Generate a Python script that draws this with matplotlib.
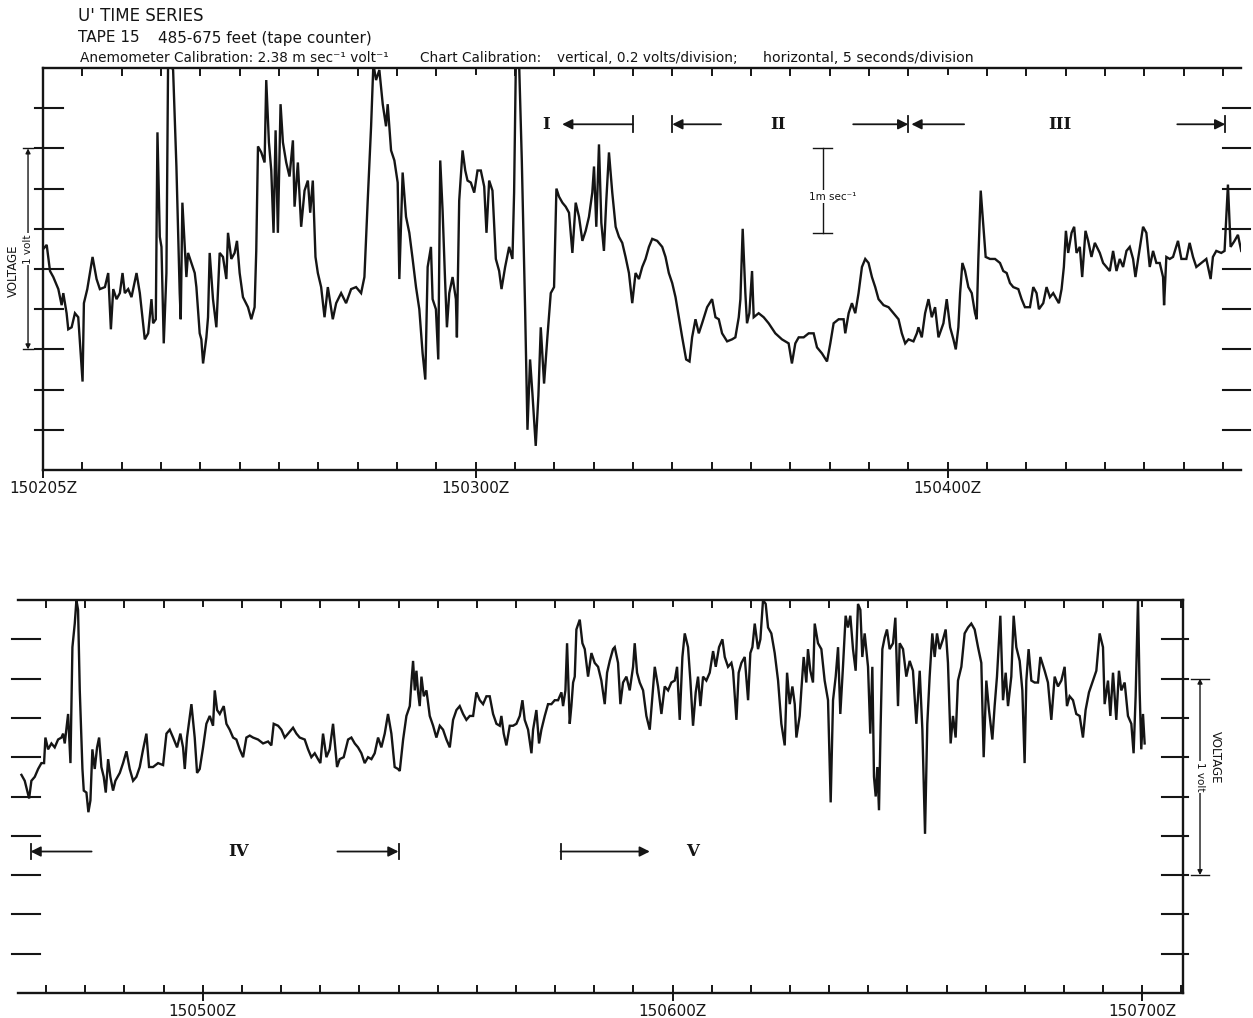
import numpy as np
import matplotlib.pyplot as plt
from matplotlib.ticker import MultipleLocator

# time in seconds after 15:02:00Z, anemometer voltage in volts above the chart floor
top_trace = [
    (5.04, 1.10), (5.47, 1.12), (5.89, 0.99), (6.31, 0.96), (6.95, 0.90), (7.37, 0.82), (7.58, 0.88),
    (8.00, 0.78), (8.21, 0.70), (8.64, 0.71), (9.06, 0.78), (9.48, 0.76), (9.70, 0.63), (10.03, 0.44),
    (10.20, 0.83), (10.63, 0.90), (11.30, 1.06), (11.81, 0.95), (12.23, 0.90), (12.87, 0.91), (13.29, 0.98),
    (13.63, 0.70), (13.93, 0.90), (14.35, 0.85), (14.77, 0.88), (15.11, 0.98), (15.40, 0.88), (15.83, 0.90),
    (16.25, 0.86), (16.89, 0.98), (17.31, 0.88), (17.94, 0.65), (18.37, 0.68), (18.79, 0.85), (19.00, 0.73),
    (19.34, 0.75), (19.55, 1.68), (19.85, 1.16), (20.06, 1.11), (20.35, 0.63), (20.69, 0.98), (20.90, 2.02),
    (21.20, 2.02), (21.54, 1.99), (21.96, 1.51), (22.38, 0.88), (22.51, 0.75), (22.72, 1.33), (23.02, 1.11),
    (23.23, 0.96), (23.44, 1.08), (23.86, 1.03), (24.29, 0.98), (24.50, 0.91), (24.92, 0.68), (25.13, 0.65),
    (25.35, 0.53), (25.77, 0.66), (25.98, 0.76), (26.19, 1.08), (26.61, 0.85), (27.04, 0.71), (27.46, 1.08),
    (27.88, 1.06), (28.31, 0.95), (28.52, 1.18), (28.94, 1.05), (29.36, 1.08), (29.66, 1.14), (30.00, 0.98),
    (30.42, 0.86), (31.06, 0.81), (31.48, 0.75), (31.90, 0.81), (32.11, 1.09), (32.33, 1.61), (32.75, 1.58),
    (33.17, 1.53), (33.38, 1.94), (33.72, 1.63), (34.02, 1.49), (34.31, 1.18), (34.57, 1.69), (34.86, 1.18),
    (35.20, 1.82), (35.50, 1.63), (35.92, 1.53), (36.34, 1.46), (36.77, 1.64), (36.98, 1.31), (37.40, 1.53),
    (37.82, 1.21), (38.25, 1.39), (38.67, 1.44), (38.97, 1.28), (39.30, 1.44), (39.64, 1.06), (39.94, 0.98),
    (40.36, 0.91), (40.79, 0.76), (41.21, 0.91), (41.84, 0.75), (42.27, 0.83), (42.90, 0.88), (43.53, 0.83),
    (44.17, 0.90), (44.80, 0.91), (45.44, 0.88), (45.86, 0.96), (46.28, 1.34), (46.71, 1.71), (47.00, 2.02),
    (47.34, 1.94), (47.76, 1.99), (48.19, 1.82), (48.61, 1.71), (48.82, 1.82), (49.25, 1.59), (49.67, 1.54),
    (50.09, 1.43), (50.30, 0.95), (50.72, 1.48), (51.15, 1.26), (51.57, 1.18), (51.99, 1.05), (52.42, 0.91),
    (52.84, 0.80), (53.26, 0.58), (53.60, 0.45), (53.90, 1.01), (54.32, 1.11), (54.53, 0.85), (54.95, 0.80),
    (55.25, 0.55), (55.50, 1.54), (55.80, 1.29), (56.10, 0.96), (56.35, 0.71), (56.65, 0.88), (57.07, 0.96),
    (57.49, 0.85), (57.62, 0.66), (57.91, 1.34), (58.34, 1.59), (58.68, 1.49), (58.97, 1.44), (59.39, 1.43),
    (59.82, 1.38), (60.24, 1.49), (60.66, 1.49), (61.09, 1.41), (61.38, 1.18), (61.72, 1.44), (62.14, 1.39),
    (62.57, 1.05), (62.99, 0.99), (63.29, 0.90), (63.75, 1.01), (64.26, 1.11), (64.68, 1.05), (64.89, 1.38),
    (65.11, 2.02), (65.53, 2.02), (65.87, 1.54), (66.29, 0.80), (66.59, 0.20), (66.92, 0.55), (67.22, 0.38),
    (67.64, 0.12), (67.98, 0.37), (68.28, 0.71), (68.70, 0.43), (69.12, 0.66), (69.55, 0.88), (69.97, 0.91),
    (70.27, 1.40), (70.60, 1.36), (71.03, 1.33), (71.45, 1.31), (71.87, 1.28), (72.30, 1.08), (72.72, 1.33),
    (73.14, 1.26), (73.57, 1.14), (73.99, 1.19), (74.41, 1.26), (74.83, 1.38), (75.05, 1.51), (75.34, 1.21),
    (75.68, 1.62), (75.98, 1.23), (76.31, 1.09), (76.61, 1.34), (76.95, 1.58), (77.37, 1.38), (77.80, 1.21),
    (78.22, 1.16), (78.64, 1.13), (79.06, 1.06), (79.49, 0.98), (79.91, 0.83), (80.33, 0.98), (80.76, 0.95),
    (81.18, 1.01), (81.60, 1.05), (82.03, 1.11), (82.45, 1.15), (83.08, 1.14), (83.72, 1.11), (84.14, 1.06),
    (84.56, 0.98), (84.99, 0.93), (85.41, 0.86), (85.83, 0.76), (86.26, 0.66), (86.76, 0.55), (87.19, 0.54),
    (87.52, 0.66), (87.95, 0.75), (88.37, 0.68), (88.79, 0.73), (89.43, 0.81), (90.06, 0.85), (90.49, 0.76),
    (90.91, 0.75), (91.33, 0.68), (91.97, 0.64), (92.60, 0.65), (93.02, 0.66), (93.45, 0.76), (93.66, 0.85),
    (93.95, 1.20), (94.29, 0.88), (94.50, 0.73), (94.80, 0.78), (95.14, 0.99), (95.35, 0.76), (95.98, 0.78),
    (96.62, 0.76), (97.25, 0.73), (98.10, 0.68), (98.94, 0.65), (99.79, 0.63), (100.21, 0.53), (100.64, 0.63),
    (101.07, 0.66), (101.70, 0.66), (102.34, 0.68), (102.97, 0.68), (103.40, 0.61), (104.03, 0.58),
    (104.67, 0.54), (105.09, 0.63), (105.51, 0.73), (106.15, 0.75), (106.78, 0.75), (106.99, 0.68),
    (107.42, 0.78), (107.84, 0.83), (108.26, 0.78), (108.68, 0.88), (109.11, 1.01), (109.53, 1.05),
    (109.95, 1.03), (110.38, 0.96), (110.80, 0.91), (111.22, 0.85), (111.86, 0.82), (112.49, 0.81),
    (113.13, 0.78), (113.76, 0.75), (114.18, 0.68), (114.61, 0.63), (115.03, 0.65), (115.66, 0.64),
    (116.09, 0.68), (116.30, 0.71), (116.72, 0.66), (117.14, 0.78), (117.57, 0.85), (117.99, 0.76),
    (118.41, 0.81), (118.84, 0.66), (119.47, 0.73), (119.89, 0.85), (120.32, 0.71), (120.74, 0.65),
    (121.04, 0.60), (121.37, 0.71), (121.59, 0.88), (121.88, 1.03), (122.22, 0.99), (122.64, 0.91),
    (123.07, 0.88), (123.49, 0.78), (123.70, 0.75), (123.91, 1.05), (124.21, 1.39), (124.55, 1.21),
    (124.84, 1.06), (125.39, 1.05), (126.03, 1.05), (126.66, 1.03), (127.08, 0.99), (127.51, 0.98),
    (127.93, 0.93), (128.35, 0.91), (128.99, 0.90), (129.41, 0.85), (129.83, 0.81), (130.47, 0.81),
    (130.89, 0.91), (131.31, 0.88), (131.61, 0.80), (132.16, 0.83), (132.58, 0.91), (133.01, 0.86),
    (133.43, 0.88), (133.85, 0.85), (134.15, 0.83), (134.49, 0.90), (134.78, 1.01), (135.04, 1.19),
    (135.33, 1.08), (135.76, 1.18), (136.09, 1.21), (136.39, 1.08), (136.81, 1.11), (137.11, 0.96),
    (137.53, 1.19), (137.87, 1.14), (138.29, 1.06), (138.72, 1.13), (139.35, 1.08), (139.77, 1.03),
    (140.20, 1.01), (140.62, 0.99), (141.04, 1.09), (141.47, 0.99), (141.89, 1.05), (142.31, 1.01),
    (142.74, 1.09), (143.16, 1.11), (143.58, 1.05), (143.88, 0.96), (144.22, 1.05), (144.85, 1.21),
    (145.27, 1.18), (145.70, 1.01), (146.12, 1.09), (146.54, 1.03), (146.97, 1.03), (147.39, 0.96),
    (147.52, 0.82), (147.81, 1.06), (148.24, 1.05), (148.66, 1.06), (149.29, 1.14), (149.72, 1.05),
    (150.35, 1.05), (150.77, 1.13), (151.20, 1.06), (151.62, 1.01), (152.25, 1.03), (152.89, 1.05),
    (153.44, 0.95), (153.73, 1.06), (154.16, 1.09), (154.79, 1.08), (155.21, 1.09), (155.64, 1.42),
    (155.98, 1.11), (156.48, 1.14), (156.91, 1.17), (157.33, 1.09),
]

bottom_trace = [
    (156.84, 1.11), (157.26, 1.08), (157.82, 0.99), (158.11, 1.08), (158.54, 1.10), (158.97, 1.14),
    (159.39, 1.17), (159.73, 1.17), (159.90, 1.30), (160.24, 1.24), (160.67, 1.27), (161.09, 1.25),
    (161.52, 1.29), (161.95, 1.30), (162.16, 1.32), (162.37, 1.27), (162.80, 1.42), (163.10, 1.17),
    (163.35, 1.76), (163.65, 1.88), (163.86, 2.00), (164.07, 1.95), (164.29, 1.54), (164.63, 1.14),
    (164.80, 1.03), (165.14, 1.02), (165.39, 0.92), (165.65, 0.98), (165.90, 1.24), (166.20, 1.14),
    (166.50, 1.25), (166.76, 1.30), (167.05, 1.15), (167.35, 1.10), (167.61, 1.02), (167.91, 1.19),
    (168.20, 1.10), (168.54, 1.03), (168.84, 1.08), (169.40, 1.12), (169.82, 1.17), (170.25, 1.23),
    (170.67, 1.14), (171.10, 1.08), (171.52, 1.10), (171.95, 1.15), (172.38, 1.24), (172.80, 1.32),
    (173.14, 1.15), (173.65, 1.15), (174.29, 1.17), (174.93, 1.16), (175.36, 1.32), (175.78, 1.34),
    (176.21, 1.30), (176.72, 1.25), (177.14, 1.32), (177.48, 1.25), (177.70, 1.14), (177.99, 1.30),
    (178.55, 1.47), (178.97, 1.30), (179.27, 1.12), (179.61, 1.14), (180.04, 1.25), (180.46, 1.37),
    (180.89, 1.41), (181.31, 1.36), (181.53, 1.54), (181.83, 1.44), (182.17, 1.42), (182.68, 1.46),
    (183.02, 1.37), (183.44, 1.34), (183.87, 1.30), (184.29, 1.29), (184.72, 1.24), (185.15, 1.20),
    (185.57, 1.30), (186.00, 1.31), (186.42, 1.30), (187.06, 1.29), (187.70, 1.27), (188.34, 1.28),
    (188.76, 1.26), (189.06, 1.37), (189.62, 1.36), (190.04, 1.34), (190.47, 1.30), (190.89, 1.32),
    (191.53, 1.35), (191.96, 1.32), (192.38, 1.30), (193.02, 1.29), (193.45, 1.24), (193.87, 1.20),
    (194.30, 1.22), (194.72, 1.19), (195.02, 1.17), (195.36, 1.32), (195.79, 1.20), (196.21, 1.24),
    (196.64, 1.37), (197.15, 1.15), (197.49, 1.19), (198.00, 1.20), (198.56, 1.29), (198.98, 1.30),
    (199.41, 1.27), (199.83, 1.25), (200.26, 1.22), (200.68, 1.17), (201.11, 1.20), (201.54, 1.19),
    (201.96, 1.22), (202.39, 1.30), (202.81, 1.25), (203.24, 1.32), (203.66, 1.42), (204.09, 1.32),
    (204.51, 1.15), (204.94, 1.14), (205.16, 1.13), (205.59, 1.29), (206.01, 1.41), (206.44, 1.46),
    (206.65, 1.58), (206.86, 1.69), (207.08, 1.54), (207.29, 1.64), (207.50, 1.53), (207.71, 1.46),
    (207.93, 1.61), (208.23, 1.51), (208.57, 1.54), (208.99, 1.41), (209.42, 1.36), (209.84, 1.30),
    (210.27, 1.36), (210.69, 1.34), (211.12, 1.29), (211.55, 1.25), (211.97, 1.39), (212.40, 1.44),
    (212.82, 1.46), (213.25, 1.42), (213.67, 1.39), (214.10, 1.41), (214.53, 1.41), (214.95, 1.53),
    (215.38, 1.49), (215.80, 1.47), (216.23, 1.51), (216.65, 1.51), (217.08, 1.42), (217.51, 1.37),
    (217.93, 1.36), (218.14, 1.41), (218.44, 1.32), (218.78, 1.26), (219.21, 1.36), (219.63, 1.36),
    (220.06, 1.37), (220.49, 1.41), (220.83, 1.49), (221.12, 1.39), (221.55, 1.34), (221.98, 1.22),
    (222.19, 1.34), (222.61, 1.44), (222.95, 1.27), (223.25, 1.34), (223.68, 1.41), (224.10, 1.47),
    (224.53, 1.47), (224.95, 1.49), (225.38, 1.49), (225.81, 1.53), (226.02, 1.46), (226.32, 1.54),
    (226.53, 1.78), (226.87, 1.37), (227.08, 1.46), (227.30, 1.58), (227.51, 1.61), (227.72, 1.85),
    (228.15, 1.90), (228.49, 1.78), (228.79, 1.75), (229.21, 1.61), (229.64, 1.73), (230.06, 1.68),
    (230.49, 1.66), (230.91, 1.59), (231.34, 1.47), (231.64, 1.63), (231.98, 1.69), (232.40, 1.75),
    (232.62, 1.76), (233.04, 1.68), (233.34, 1.47), (233.68, 1.58), (234.11, 1.61), (234.53, 1.54),
    (234.96, 1.66), (235.17, 1.78), (235.47, 1.63), (235.81, 1.58), (236.24, 1.54), (236.66, 1.41),
    (237.09, 1.34), (237.43, 1.51), (237.73, 1.66), (238.15, 1.56), (238.58, 1.42), (239.00, 1.56),
    (239.43, 1.54), (239.85, 1.58), (240.28, 1.59), (240.58, 1.66), (240.92, 1.39), (241.26, 1.71),
    (241.56, 1.83), (241.98, 1.76), (242.28, 1.59), (242.62, 1.36), (242.96, 1.53), (243.26, 1.61),
    (243.56, 1.46), (243.90, 1.61), (244.32, 1.59), (244.75, 1.63), (245.18, 1.74), (245.52, 1.66),
    (245.94, 1.76), (246.37, 1.80), (246.67, 1.71), (247.09, 1.66), (247.52, 1.68), (247.73, 1.64),
    (248.16, 1.39), (248.45, 1.63), (248.80, 1.68), (249.22, 1.71), (249.65, 1.49), (249.94, 1.73),
    (250.20, 1.76), (250.50, 1.88), (250.92, 1.75), (251.22, 1.80), (251.56, 2.00), (251.90, 1.98),
    (252.20, 1.86), (252.62, 1.83), (253.05, 1.73), (253.48, 1.59), (253.90, 1.37), (254.33, 1.26),
    (254.63, 1.63), (254.97, 1.47), (255.31, 1.56), (255.61, 1.47), (255.82, 1.30), (256.24, 1.41),
    (256.45, 1.54), (256.75, 1.71), (257.09, 1.58), (257.30, 1.75), (257.60, 1.64), (257.94, 1.58),
    (258.16, 1.88), (258.58, 1.78), (259.01, 1.75), (259.43, 1.59), (259.86, 1.49), (260.20, 0.97),
    (260.50, 1.49), (260.84, 1.61), (261.14, 1.76), (261.43, 1.42), (261.77, 1.66), (262.11, 1.92),
    (262.41, 1.86), (262.71, 1.92), (263.05, 1.75), (263.39, 1.64), (263.69, 1.98), (263.99, 1.95),
    (264.24, 1.71), (264.54, 1.83), (264.97, 1.66), (265.26, 1.32), (265.52, 1.66), (265.73, 1.10),
    (265.95, 1.00), (266.16, 1.15), (266.37, 0.93), (266.58, 1.36), (266.80, 1.75), (267.10, 1.81),
    (267.39, 1.85), (267.73, 1.75), (268.16, 1.78), (268.46, 1.91), (268.80, 1.46), (269.01, 1.78),
    (269.44, 1.75), (269.86, 1.61), (270.29, 1.69), (270.71, 1.64), (271.14, 1.37), (271.57, 1.64),
    (271.91, 1.34), (272.25, 0.81), (272.54, 1.37), (272.84, 1.61), (273.18, 1.83), (273.48, 1.71),
    (273.78, 1.83), (274.12, 1.75), (274.54, 1.80), (274.89, 1.85), (275.18, 1.68), (275.52, 1.27),
    (275.82, 1.41), (276.16, 1.30), (276.46, 1.59), (276.89, 1.66), (277.31, 1.83), (277.74, 1.86),
    (278.16, 1.88), (278.59, 1.85), (279.02, 1.76), (279.44, 1.68), (279.74, 1.20), (280.08, 1.59),
    (280.42, 1.44), (280.85, 1.29), (281.14, 1.46), (281.44, 1.61), (281.87, 1.92), (282.21, 1.49),
    (282.55, 1.63), (282.85, 1.46), (283.27, 1.61), (283.57, 1.92), (283.91, 1.76), (284.34, 1.69),
    (284.68, 1.54), (284.97, 1.17), (285.19, 1.59), (285.48, 1.75), (285.83, 1.59), (286.25, 1.58),
    (286.68, 1.58), (286.98, 1.71), (287.53, 1.64), (287.95, 1.58), (288.38, 1.39), (288.81, 1.61),
    (289.23, 1.56), (289.66, 1.59), (290.08, 1.66), (290.38, 1.46), (290.72, 1.51), (291.15, 1.49),
    (291.57, 1.42), (292.00, 1.41), (292.42, 1.30), (292.76, 1.44), (293.19, 1.53), (293.70, 1.59),
    (294.13, 1.64), (294.55, 1.83), (294.98, 1.76), (295.19, 1.47), (295.62, 1.59), (295.92, 1.41),
    (296.26, 1.63), (296.68, 1.39), (297.02, 1.64), (297.32, 1.54), (297.75, 1.58), (298.17, 1.41),
    (298.60, 1.37), (298.89, 1.22), (299.15, 1.51), (299.45, 2.00), (299.66, 1.54), (299.87, 1.24),
    (300.09, 1.42), (300.30, 1.27),
]

top_span = (5, 157.3)
bottom_span = (156.4, 305.2)
top_labels = {5: '150205Z', 60: '150300Z', 120: '150400Z'}
bottom_labels = {180: '150500Z', 240: '150600Z', 300: '150700Z'}
volt_levels = [0.2, 0.4, 0.6, 0.8, 1.0, 1.2, 1.4, 1.6, 1.8]

ink = '#151515'
plt.rcParams['font.family'] = ['DejaVu Sans']

fig = plt.figure(figsize=(12.53, 10.18), dpi=100)
W, H = 1253, 1018
ax1 = fig.add_axes([43 / W, 1 - 470 / H, 1198 / W, 402 / H])
ax2 = fig.add_axes([18 / W, 1 - 993 / H, 1165 / W, 393 / H])


def setup(ax, span, labels, hide_side):
    ax.set_xlim(*span)
    ax.set_ylim(0, 2.0)
    ax.spines[hide_side].set_visible(False)
    for s in ax.spines.values():
        s.set_linewidth(1.7)
        s.set_color(ink)
    ax.set_xticks(list(labels))
    ax.set_xticklabels(list(labels.values()), fontsize=11, color=ink)
    ax.xaxis.set_minor_locator(MultipleLocator(5))
    ax.tick_params(axis='x', which='minor', direction='in', length=6, width=1.4,
                   top=True, bottom=True, color=ink)
    ax.tick_params(axis='x', which='major', direction='inout', length=12, width=1.4,
                   top=False, bottom=True, color=ink, pad=2)
    ax.set_yticks([])


def side_ticks(ax, x0, x1):
    for v in volt_levels:
        ax.plot([x0, x1], [v, v], transform=ax.get_yaxis_transform(), color=ink,
                lw=1.5, clip_on=False)


setup(ax1, top_span, top_labels, 'right')
setup(ax2, bottom_span, bottom_labels, 'left')
# minute marks are also notched on the top edge
for ax, labels in ((ax1, top_labels), (ax2, bottom_labels)):
    for t in labels:
        ax.plot([t, t], [1.0, 0.985], transform=ax.get_xaxis_transform(), color=ink, lw=1.4)

t1, v1 = np.array(top_trace).T
t2, v2 = np.array(bottom_trace).T
ax1.plot(t1, v1, color=ink, lw=1.7, solid_joinstyle='miter')
ax2.plot(t2, v2, color=ink, lw=1.7, solid_joinstyle='miter')

side_ticks(ax1, -0.0067, 0.0167)
side_ticks(ax1, 0.985, 1.0075)
side_ticks(ax2, -0.005, 0.019)
side_ticks(ax2, 0.982, 1.0047)


# 1 volt scale bars
def volt_bar(ax, x, cap, rot, label_x, label_y):
    tr = ax.get_yaxis_transform()
    ax.annotate('', xy=(x, 1.6), xytext=(x, 0.6), xycoords=tr, textcoords=tr,
                arrowprops=dict(arrowstyle='<|-|>', lw=1.0, color=ink, mutation_scale=7,
                                shrinkA=0, shrinkB=0), annotation_clip=False)
    for v in (0.6, 1.6):
        ax.plot([x - cap, x + cap], [v, v], transform=tr, color=ink, lw=1.0, clip_on=False)
    ax.text(x, 1.1, '1 volt', transform=tr, rotation=rot, ha='center', va='center',
            fontsize=7.5, color=ink, bbox=dict(fc='white', ec='none', pad=1))
    ax.text(label_x, label_y, 'VOLTAGE', transform=tr, rotation=rot, ha='center',
            va='center', fontsize=8.5, color=ink)


volt_bar(ax1, -0.0125, 0.004, 90, -0.025, 0.99)
volt_bar(ax2, 1.0146, 0.008, 270, 1.0275, 1.20)

# 1 m/s bar (1 / 2.38 volt)
ax1.plot([104.1, 104.1], [1.60, 1.60 - 1 / 2.38], color=ink, lw=1.0)
for v in (1.60, 1.60 - 1 / 2.38):
    ax1.plot([102.9, 105.3], [v, v], color=ink, lw=1.0)
ax1.text(105.4, 1.36, '1m sec\u207b\u00b9', ha='center', va='center', fontsize=7.5,
         color=ink, bbox=dict(fc='white', ec='none', pad=1))


# section markers
def arrow(ax, x_from, x_to, y):
    ax.annotate('', xy=(x_to, y), xytext=(x_from, y),
                arrowprops=dict(arrowstyle='-|>', lw=1.3, color=ink, mutation_scale=15,
                                shrinkA=0, shrinkB=0))


def bar(ax, x, y):
    ax.plot([x, x], [y - 0.04, y + 0.04], color=ink, lw=1.3)


def numeral(ax, x, y, s):
    ax.text(x, y, s, ha='center', va='center', fontsize=12, color=ink,
            family='DejaVu Serif', fontweight='bold')


yt = 1.72
numeral(ax1, 69.0, yt, 'I')
arrow(ax1, 80, 71.0, yt); bar(ax1, 80, yt)
arrow(ax1, 91.2, 85, yt); bar(ax1, 85, yt)
numeral(ax1, 98.5, yt, 'II')
arrow(ax1, 108, 115, yt); bar(ax1, 115, yt)
arrow(ax1, 122.1, 115.4, yt)
numeral(ax1, 134.3, yt, 'III')
arrow(ax1, 149.2, 155.3, yt); bar(ax1, 155.3, yt)

yb = 0.72
arrow(ax2, 165.8, 158.0, yb); bar(ax2, 158.0, yb)
numeral(ax2, 184.6, yb, 'IV')
arrow(ax2, 197.2, 205, yb); bar(ax2, 205, yb)
bar(ax2, 225.7, yb); arrow(ax2, 225.7, 237.1, yb)
numeral(ax2, 242.5, yb, 'V')

# header
fig.text(78 / W, 1 - 16 / H, "U' TIME SERIES", fontsize=12, color=ink, va='center')
fig.text(78 / W, 1 - 38 / H, 'TAPE 15', fontsize=11, color=ink, va='center')
fig.text(158 / W, 1 - 38 / H, '485-675 feet (tape counter)', fontsize=11, color=ink, va='center')
fig.text(80 / W, 1 - 58 / H, 'Anemometer Calibration: 2.38 m sec\u207b\u00b9 volt\u207b\u00b9',
         fontsize=9.8, color=ink, va='center')
fig.text(420 / W, 1 - 58 / H, 'Chart Calibration:', fontsize=9.8, color=ink, va='center')
fig.text(557 / W, 1 - 58 / H, 'vertical, 0.2 volts/division;', fontsize=9.8, color=ink, va='center')
fig.text(763 / W, 1 - 58 / H, 'horizontal, 5 seconds/division', fontsize=10.2, color=ink, va='center')

fig.savefig('out.png', dpi=100)
